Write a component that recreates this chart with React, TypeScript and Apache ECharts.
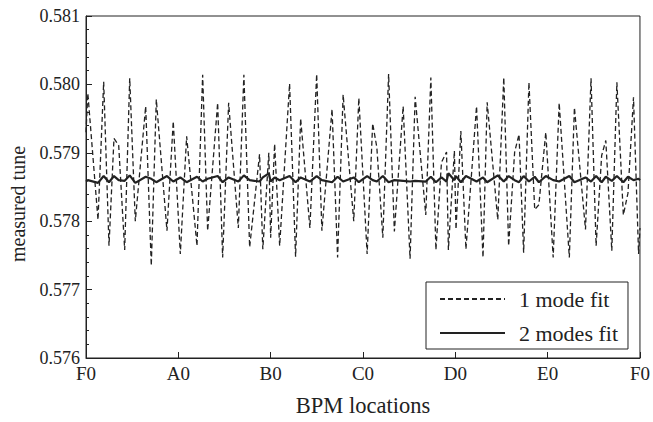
import React, { useEffect, useRef } from "react";
import * as echarts from "echarts";

// BPM position along the ring (sector width = 20 units)
const BPM_POS = [
  0, 0.4, 2.6, 3.83, 4.98, 6.06, 7.08, 8.38, 9.47, 10.68, 12.93, 14.14, 15.23, 17.54, 18.9,
  20.43, 21.8, 24.04, 25.27, 26.35, 28.52, 29.6, 30.9, 33.0, 34.2, 35.45, 37.6, 38.3, 39.6,
  40.0, 40.86, 41.95, 44.1, 45.4, 46.5, 48.5, 49.97, 51.1, 53.3, 54.5, 55.7, 58.0, 59.1,
  60.9, 62.1, 63.0, 64.3, 65.55, 66.8, 68.7, 70.2, 71.3, 73.6, 74.7, 75.8, 77.0, 78.1, 78.5,
  79.8, 80.15, 81.2, 82.3, 84.6, 86.0, 86.9, 89.2, 90.5, 91.55, 92.85, 93.8, 94.8, 95.95,
  97.2, 98.1, 99.6, 101.2, 102.5, 104.7, 105.8, 108.2, 109.4, 110.5, 111.7, 112.6, 113.9,
  115.0, 116.4, 117.4, 118.6, 119.7, 120,
];

const ONE_MODE = [
  0.5793, 0.57987, 0.57802, 0.58004, 0.57764, 0.57921, 0.57911, 0.57758, 0.58009, 0.578,
  0.57968, 0.57735, 0.57978, 0.57786, 0.57946, 0.57752, 0.57924, 0.57764, 0.58014, 0.57786,
  0.57973, 0.57747, 0.57973, 0.5779, 0.58014, 0.57762, 0.57898, 0.57759, 0.579, 0.57776,
  0.57913, 0.57764, 0.58001, 0.57748, 0.5795, 0.5779, 0.58015, 0.57786, 0.57964, 0.57747,
  0.57985, 0.578, 0.5798, 0.57752, 0.57943, 0.57908, 0.57776, 0.58015, 0.57785, 0.57968,
  0.57745, 0.57982, 0.57809, 0.5801, 0.57758, 0.57886, 0.57901, 0.57758, 0.57903, 0.57788,
  0.57932, 0.57759, 0.57968, 0.57747, 0.57974, 0.57802, 0.5801, 0.57764, 0.57901, 0.57927,
  0.57754, 0.58003, 0.57817, 0.57824, 0.5793, 0.57747, 0.57973, 0.57747, 0.57966, 0.57788,
  0.58009, 0.57764, 0.57896, 0.57918, 0.57757, 0.58003, 0.57809, 0.57841, 0.57981, 0.57752,
  0.5779,
];

const TWO_MODES = [
  0.57858, 0.5786, 0.57856, 0.57866, 0.57857, 0.57866, 0.5786, 0.57859, 0.57867, 0.57856,
  0.57865, 0.57862, 0.57857, 0.57866, 0.57858, 0.57864, 0.57857, 0.57865, 0.57858, 0.57862,
  0.57866, 0.57857, 0.57864, 0.57858, 0.57867, 0.5786, 0.57858, 0.57864, 0.5787, 0.57858,
  0.57864, 0.5786, 0.57866, 0.57857, 0.57864, 0.57858, 0.57866, 0.5786, 0.57857, 0.57865,
  0.57858, 0.57864, 0.57857, 0.57866, 0.5786, 0.57858, 0.57866, 0.57857, 0.5786, 0.57859,
  0.57858, 0.57859, 0.57858, 0.57865, 0.57857, 0.57864, 0.57858, 0.5787, 0.5786, 0.57866,
  0.57857, 0.57866, 0.57858, 0.57864, 0.57857, 0.57867, 0.57858, 0.57866, 0.5786, 0.57857,
  0.57866, 0.57858, 0.57865, 0.57857, 0.57866, 0.5786, 0.57858, 0.57866, 0.57857, 0.57864,
  0.57858, 0.57866, 0.57857, 0.57865, 0.57859, 0.57866, 0.57857, 0.57865, 0.5786, 0.57862,
  0.5786,
];

const X_LABELS = ["F0", "A0", "B0", "C0", "D0", "E0", "F0"];
const SERIES_NAMES = ["1 mode fit", "2 modes fit"];

const FONT = "Liberation Serif, Times New Roman, serif";

export default function App() {
  const ref = useRef<HTMLDivElement>(null);

  useEffect(() => {
    if (!ref.current) return;
    const chart = echarts.init(ref.current, null, { renderer: "svg" });
    const pair = (vals: number[]) => vals.map((v, i) => [BPM_POS[i], v]);
    chart.setOption({
      animation: false,
      backgroundColor: "#fff",
      textStyle: { fontFamily: FONT },
      grid: {
        left: 85,
        right: 9,
        top: 16,
        bottom: 61,
        show: true,
        borderColor: "#222",
        borderWidth: 1,
        backgroundColor: "transparent",
      },
      xAxis: {
        type: "value",
        min: 0,
        max: 120,
        interval: 20,
        name: "BPM locations",
        nameLocation: "middle",
        nameGap: 36,
        nameTextStyle: { fontFamily: FONT, fontSize: 22.5, color: "#222" },
        axisLine: { show: true, lineStyle: { color: "#222", width: 1 } },
        axisTick: { show: true, inside: true, length: 6, lineStyle: { color: "#222" } },
        axisLabel: {
          fontFamily: FONT,
          fontSize: 19,
          color: "#222",
          margin: 6,
          formatter: (v: number) => X_LABELS[Math.round(v / 20)] ?? "",
        },
        splitLine: { show: false },
      },
      yAxis: {
        type: "value",
        min: 0.576,
        max: 0.581,
        interval: 0.001,
        name: "measured tune",
        nameLocation: "middle",
        nameGap: 58,
        nameTextStyle: { fontFamily: FONT, fontSize: 20, color: "#222", padding: [0, 34, 0, 0] },
        axisLine: { show: true, lineStyle: { color: "#222", width: 1 } },
        axisTick: { show: true, inside: true, length: 6, lineStyle: { color: "#222" } },
        minorTick: { show: true, splitNumber: 5, length: 3, lineStyle: { color: "#222" } },
        axisLabel: {
          fontFamily: FONT,
          fontSize: 18,
          color: "#222",
          margin: 6,
          formatter: (v: number) => v.toFixed(3),
        },
        splitLine: { show: false },
      },
      legend: {
        left: 426,
        top: 282,
        orient: "vertical",
        backgroundColor: "#fff",
        borderColor: "#222",
        borderWidth: 1,
        borderRadius: 0,
        padding: [6, 10, 5, 13],
        itemGap: 12,
        itemWidth: 65,
        itemHeight: 12,
        itemStyle: { opacity: 0 },
        textStyle: { fontFamily: FONT, fontSize: 22, color: "#222", padding: [0, 0, 0, 9] },
        data: SERIES_NAMES,
      },
      series: [
        {
          name: SERIES_NAMES[0],
          type: "line",
          data: pair(ONE_MODE),
          symbol: "none",
          lineStyle: { color: "#222", width: 1.3, type: [5, 3] },
          itemStyle: { color: "#222" },
          z: 2,
        },
        {
          name: SERIES_NAMES[1],
          type: "line",
          data: pair(TWO_MODES),
          symbol: "none",
          lineStyle: { color: "#222", width: 2.2 },
          itemStyle: { color: "#222" },
          z: 3,
        },
      ],
    });
    return () => chart.dispose();
  }, []);

  return (
    <div
      ref={ref}
      style={{ position: "fixed", left: 0, top: 0, width: 653, height: 422, background: "#fff" }}
    />
  );
}
